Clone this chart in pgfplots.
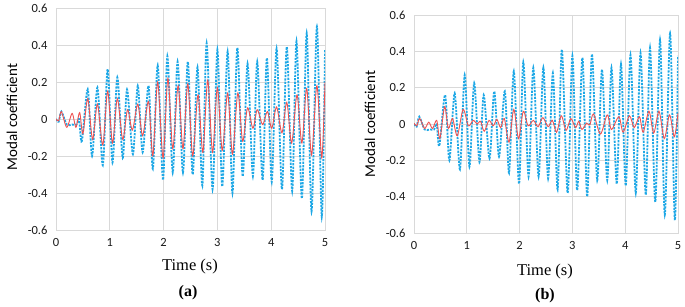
\documentclass[border=0pt]{standalone}
\usepackage{pgfplots}
\pgfplotsset{compat=1.18}
\usepackage{pgfplotstable}
\usepackage{fontspec}
\setmainfont{Carlito}
\newfontfamily\seriffont{Liberation Serif}
\definecolor{bl}{RGB}{30,168,230}
\definecolor{rd}{RGB}{238,82,82}
\definecolor{gr}{RGB}{217,217,217}

\pgfplotstableread{
t v
0 0
0.05 -0.015
0.1 0.04
0.2 -0.03
0.3 -0.03
0.38 -0.03
0.43 0.0
0.48 -0.12
0.59 0.16
0.67 -0.20
0.77 0.17
0.87 -0.25
0.96 0.27
1.05 -0.235
1.14 0.225
1.24 -0.21
1.32 0.16
1.43 -0.19
1.52 0.18
1.61 -0.18
1.72 0.18
1.80 -0.27
1.89 0.29
1.99 -0.33
2.07 0.34
2.17 -0.29
2.26 0.31
2.36 -0.29
2.45 0.31
2.54 -0.30
2.63 0.28
2.72 -0.36
2.80 0.41
2.91 -0.38
3.00 0.375
3.09 -0.365
3.19 0.365
3.28 -0.40
3.37 0.385
3.47 -0.31
3.56 0.30
3.66 -0.31
3.74 0.31
3.84 -0.33
3.92 0.33
4.01 -0.34
4.10 0.38
4.20 -0.38
4.29 0.39
4.39 -0.39
4.47 0.42
4.57 -0.43
4.66 0.465
4.75 -0.50
4.85 0.50
4.94 -0.53
5.00 0.375
}\blue

\pgfplotstableread{
t v
0 0
0.05 -0.01
0.1 0.04
0.2 -0.045
0.3 0.03
0.37 -0.045
0.44 0.035
0.5 -0.08
0.59 0.11
0.68 -0.11
0.77 0.08
0.87 -0.14
0.96 0.15
1.05 -0.13
1.14 0.11
1.24 -0.11
1.33 0.05
1.42 -0.06
1.52 0.08
1.61 -0.09
1.72 0.095
1.80 -0.20
1.89 0.20
1.99 -0.21
2.08 0.22
2.17 -0.16
2.27 0.18
2.36 -0.16
2.45 0.19
2.54 -0.20
2.64 0.13
2.73 -0.18
2.82 0.21
2.91 -0.18
3.00 0.17
3.09 -0.17
3.19 0.14
3.28 -0.19
3.38 0.14
3.47 -0.12
3.56 0.06
3.66 -0.05
3.74 0.05
3.84 -0.03
3.93 0.04
4.01 -0.05
4.10 0.065
4.20 -0.075
4.29 0.09
4.38 -0.13
4.48 0.13
4.57 -0.13
4.66 0.165
4.75 -0.195
4.85 0.18
4.94 -0.21
5.00 0.20
}\reda

\pgfplotstableread{
t v
0 0.005
0.05 -0.01
0.11 0.03
0.2 -0.025
0.28 0.01
0.35 -0.025
0.43 0.02
0.49 -0.08
0.58 0.095
0.65 -0.025
0.73 0.03
0.82 -0.065
0.93 0.08
1.03 -0.01
1.12 0.02
1.20 0.0
1.26 0.015
1.33 -0.04
1.42 0.02
1.50 -0.01
1.57 0.025
1.64 -0.02
1.71 0.03
1.80 -0.10
1.89 0.08
1.98 -0.08
2.07 0.07
2.16 -0.01
2.26 0.02
2.35 -0.015
2.44 0.035
2.54 -0.015
2.62 0.02
2.70 -0.045
2.79 0.045
2.88 -0.035
2.97 0.03
3.06 -0.02
3.12 0.015
3.18 -0.03
3.27 0.005
3.33 -0.005
3.40 0.055
3.53 -0.055
3.66 0.05
3.74 -0.03
3.88 0.04
3.96 -0.045
4.08 0.045
4.17 -0.02
4.27 0.04
4.34 -0.045
4.45 0.07
4.54 -0.05
4.64 0.07
4.74 -0.08
4.84 0.05
4.93 -0.07
5.00 0.06
}\redb

\pgfplotsset{
  panel/.style={
    scale only axis,
    anchor=south west,
    xmin=0, xmax=5, ymin=-0.6, ymax=0.6,
    xtick={0,1,2,3,4,5},
    xticklabels={0,1,2,3,4,5},
    ytick={-0.6,-0.4,-0.2,0,0.2,0.4,0.6},
    yticklabels={-0.6,-0.4,-0.2,0,0.2,0.4,0.6},
    grid=major,
    grid style={gr, line width=0.8pt},
    axis line style={gr, line width=0.8pt},
    major tick length=0pt,
    tick label style={font=\fontsize{12.5}{14}\selectfont, text=black!90},
    yticklabel style={xshift=-5pt},
    xticklabel style={yshift=-5pt},
    clip=true,
  },
  bluestyle/.style={bl, line width=1.8pt, dash pattern=on 2.2pt off 1.2pt, smooth, tension=0.5, no marks},
  redstyle/.style={rd, line width=0.9pt, smooth, tension=0.5, no marks},
}

\begin{document}
\begin{tikzpicture}
\path (0pt,0pt) rectangle (685pt,306pt);

\begin{axis}[panel, at={(56pt,76pt)}, width=269pt, height=222pt]
\addplot[bluestyle] table[x=t,y=v] {\blue};
\addplot[redstyle] table[x=t,y=v] {\reda};
\end{axis}

\begin{axis}[panel, at={(414pt,73pt)}, width=264pt, height=218pt]
\addplot[bluestyle] table[x=t,y=v] {\blue};
\addplot[redstyle] table[x=t,y=v] {\redb};
\end{axis}

\node[rotate=90, font=\fontsize{15}{16}\selectfont] at (12pt,189pt) {Modal coefficient};
\node[rotate=90, font=\fontsize{15}{16}\selectfont] at (370pt,182pt) {Modal coefficient};
\node[font=\seriffont\fontsize{16.5}{18}\selectfont] at (190pt,39pt) {Time (s)};
\node[font=\seriffont\fontsize{16.5}{18}\selectfont] at (545pt,34pt) {Time (s)};
\node[font=\seriffont\bfseries\fontsize{16}{18}\selectfont] at (188pt,13pt) {(a)};
\node[font=\seriffont\bfseries\fontsize{16}{18}\selectfont] at (545pt,10pt) {(b)};
\end{tikzpicture}
\end{document}
